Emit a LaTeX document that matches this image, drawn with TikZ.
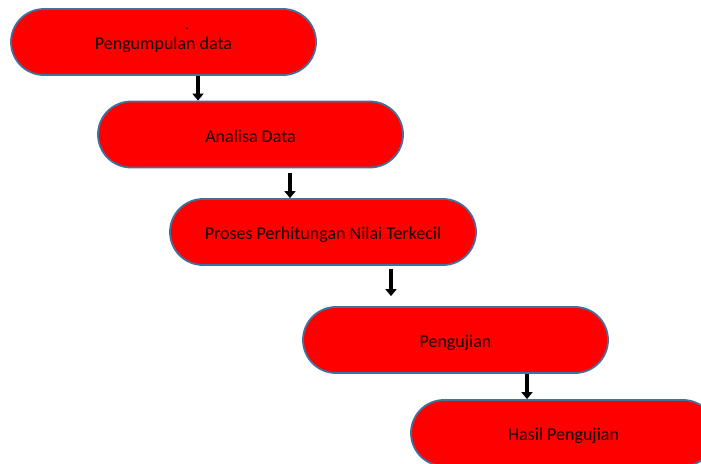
\documentclass[tikz,border=0pt]{standalone}
\usepackage{fontspec}
\setmainfont{Carlito}
\usetikzlibrary{arrows.meta}
\definecolor{boxred}{HTML}{FF0000}
\definecolor{boxline}{HTML}{41719C}
\definecolor{txt}{HTML}{1A0000}
\tikzset{
  pill/.style={draw=boxline, line width=1.8pt, fill=boxred, rounded corners=33pt,
    minimum width=305pt, minimum height=66pt, inner sep=0pt,
    text height=17pt, text depth=2pt, text=txt,
    font=\fontsize{18}{20}\selectfont},
  flowarrow/.style={draw=black, line width=3.6pt,
    -{Triangle[width=11pt,length=7pt]}}
}
\begin{document}
\begin{tikzpicture}[x=1pt,y=1pt]
\useasboundingbox (0,0) rectangle (701,-463);
\clip (0,0) rectangle (701,-463);
\node[pill] (b1) at (163.5,-42) {Pengumpulan data};
\node[pill] (b2) at (250.5,-134.5) {Analisa Data};
\node[pill, minimum width=306pt] (b3) at (323,-232) {Proses Perhitungan Nilai Terkecil};
\node[pill] (b4) at (455.5,-340) {Pengujian};
\node[pill] (b5) at (563.5,-433) {Hasil Pengujian};
\node[anchor=base, inner sep=0pt, text=black, font=\fontsize{13}{14}\selectfont] (dot) at (187,-29.5) {.};
\draw[flowarrow] ([xshift=34.5pt]b1.south) -- ([xshift=-52.5pt]b2.north);
\draw[flowarrow] ([xshift=39.5pt,yshift=-5pt]b2.south) -- ([xshift=-33pt]b3.north);
\draw[flowarrow] ([xshift=68pt,yshift=-3pt]b3.south) -- ([xshift=-64.5pt,yshift=10pt]b4.north);
\draw[flowarrow] ([xshift=71.5pt]b4.south) -- ([xshift=-36.5pt]b5.north);
\end{tikzpicture}
\end{document}
